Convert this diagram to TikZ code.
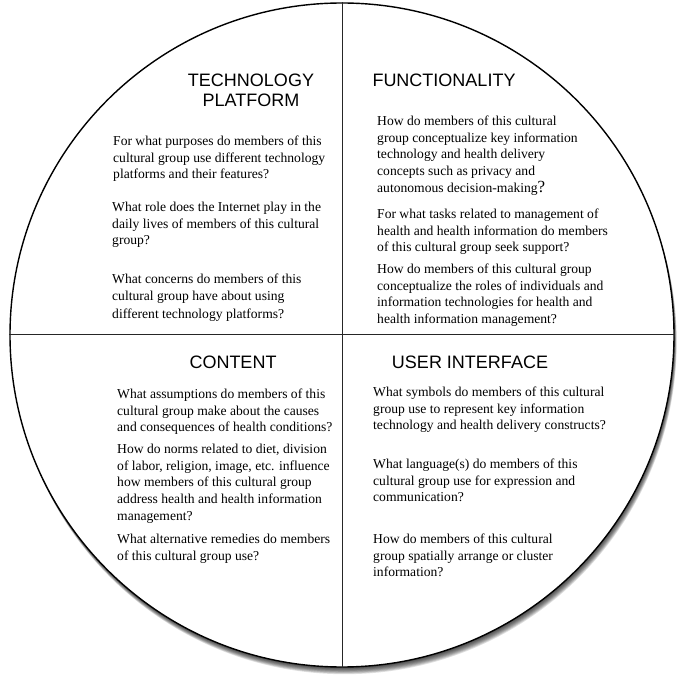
\documentclass[tikz,border=0pt]{standalone}
\usepackage{fontspec}
\setmainfont{Liberation Serif}
\newfontfamily\headfont{Liberation Sans}
\usetikzlibrary{positioning}

\begin{document}
\begin{tikzpicture}[
        x=1pt, y=-1pt,
        every node/.style={inner sep=0pt},
        quadtitle/.style={font=\headfont\fontsize{18}{20}\selectfont, align=center},
        question/.style={anchor=north west, align=left, font=\fontsize{13.6}{16.6}\selectfont},
        divider/.style={line width=1pt, color=black!85}
    ]
        \useasboundingbox (0,0) rectangle (685,684);

        % Shadow
        \foreach \d in {1,...,9}
            \fill[black, opacity=0.12, shift={(0.3*\d,0.8*\d)}] (342,335) circle (332pt);

        % Wheel
        \node[circle, draw, line width=1.4pt, fill=white, minimum size=664pt] (wheel) at (342,335) {};

        % Dividers
        \draw[divider] (wheel.north) -- (wheel.south);
        \draw[divider] (wheel.west) -- (wheel.east);

        % Technology platform
        \node[quadtitle] (techtitle) at (251,90) {TECHNOLOGY\\PLATFORM};
        \node[question] (tech1) at (113,136) {For what purposes do members of this\\cultural group use different technology\\platforms and their features?};
        \node[question] (tech2) at (112,202) {What role does the Internet play in the\\daily lives of members of this cultural\\group?};
        \node[question] (tech3) at (112,274) {What concerns do members of this\\cultural group have about using\\[2pt]different technology platforms?};

        % Functionality
        \node[quadtitle] (functitle) at (444,80) {FUNCTIONALITY};
        \node[question] (func1) at (377,116) {How do members of this cultural\\group conceptualize key information\\technology and health delivery\\concepts such as privacy and\\autonomous decision-making{\fontsize{17}{17}\selectfont ?}};
        \node[question] (func2) at (377,209) {For what tasks related to management of\\health and health information do members\\of this cultural group seek support?};
        \node[question] (func3) at (377,264) {How do members of this cultural group\\conceptualize the roles of individuals and\\information technologies for health and\\health information management?};

        % Content
        \node[quadtitle] (conttitle) at (233,362) {CONTENT};
        \node[question] (cont1) at (117,389) {What assumptions do members of this\\cultural group make about the causes\\and consequences of health conditions?};
        \node[question] (cont2) at (117,444) {How do norms related to diet, division\\of labor, religion, image, etc. influence\\how members of this cultural group\\address health and health information\\management?};
        \node[question] (cont3) at (117,534) {What alternative remedies do members\\of this cultural group use?};

        % User interface
        \node[quadtitle] (uititle) at (470,362) {USER INTERFACE};
        \node[question] (ui1) at (373,387) {What symbols do members of this cultural\\group use to represent key information\\technology and health delivery constructs?};
        \node[question] (ui2) at (373,459) {What language(s) do members of this\\cultural group use for expression and\\communication?};
        \node[question] (ui3) at (373,534) {How do members of this cultural\\group spatially arrange or cluster\\information?};
    \end{tikzpicture}
\end{document}
